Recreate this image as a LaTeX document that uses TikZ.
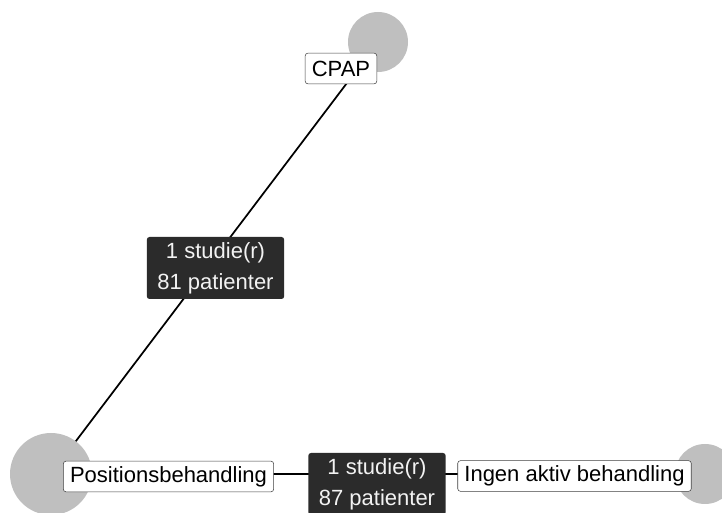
\documentclass[tikz,border=0pt]{standalone}
\usepackage{fontspec}
\setmainfont{Liberation Sans}

\begin{document}
\begin{tikzpicture}[x=0.75pt,y=-0.75pt,
  knot/.style={circle,fill=black!25,inner sep=0pt},
  treat/.style={draw=black!75,fill=white,rounded corners=2pt,inner xsep=5pt,inner ysep=0pt,minimum height=23pt,font=\fontsize{16.5}{19}\selectfont},
  study/.style={fill=black!83,text=black!5,rounded corners=2pt,inner sep=0pt,minimum width=103pt,minimum height=46.5pt,align=center,font=\fontsize{16.5}{23}\selectfont},
  link/.style={line width=1.3pt}]
\useasboundingbox (0,0) rectangle (722,513);
\clip (0,0) rectangle (722,513);
\coordinate (cpap) at (378,42);
\coordinate (pos) at (51,474);
\coordinate (ingen) at (705,474);
\draw[link] (cpap) -- (pos);
\draw[link] (pos) -- (ingen);
\node[knot,minimum size=45pt] (cpapdot) at (cpap) {};
\node[knot,minimum size=61.5pt] (posdot) at (pos) {};
\node[knot,minimum size=45pt] (ingendot) at (ingen) {};
\node[treat] (cpaplab) at (341,68.5) {CPAP};
\node[treat] (poslab) at (168.5,476.5) {Positionsbehandling};
\node[treat] (ingenlab) at (574.5,476) {Ingen aktiv behandling};
\node[study] (cpappos) at (215.5,268) {1 studie(r)\\ 81 patienter};
\node[study] (posingen) at (377,484) {1 studie(r)\\ 87 patienter};
\end{tikzpicture}
\end{document}
